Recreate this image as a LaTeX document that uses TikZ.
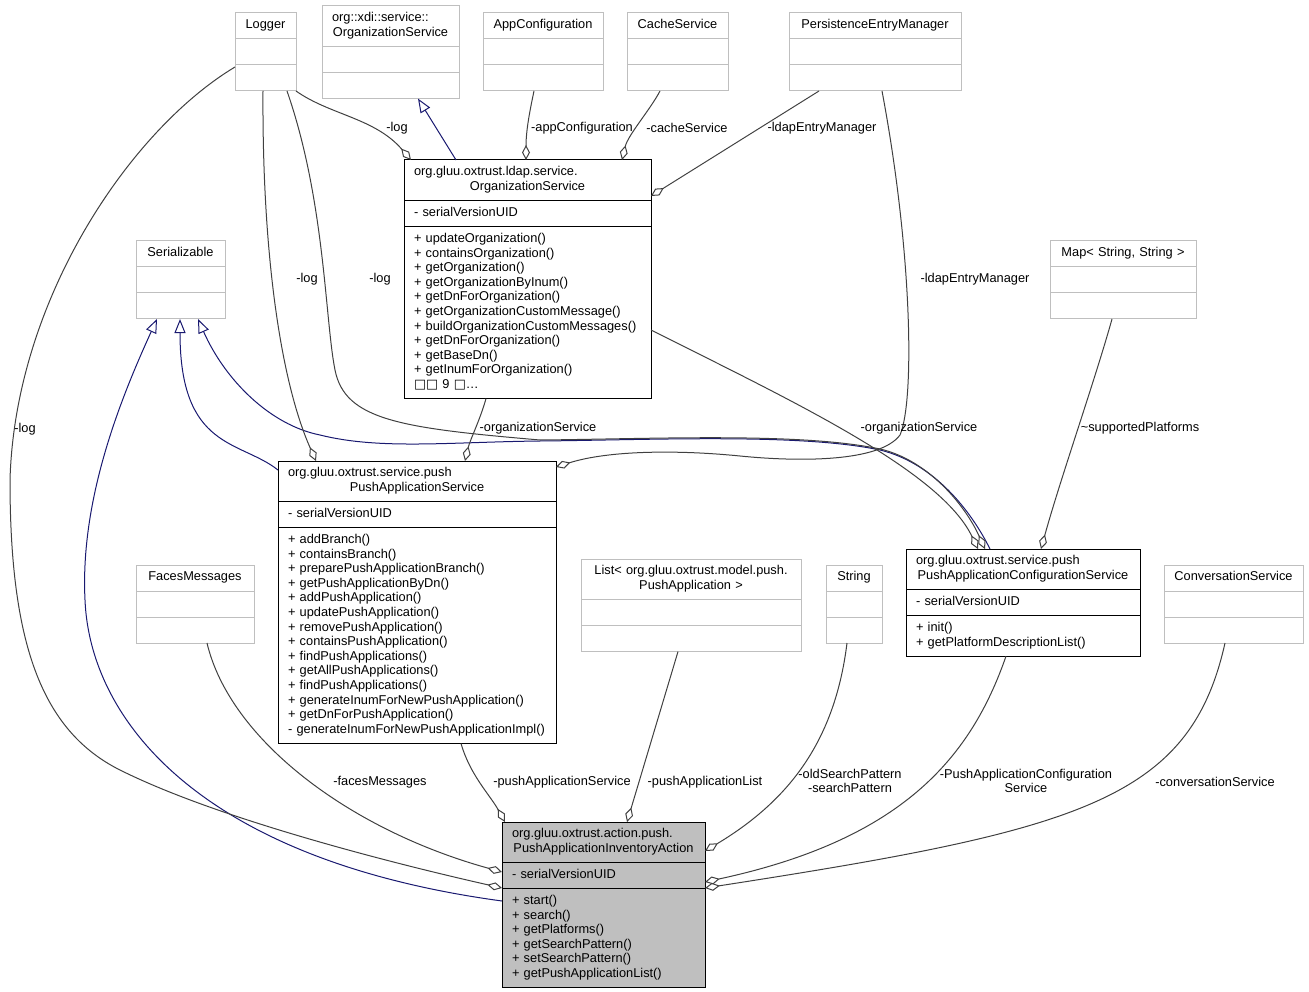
\documentclass[tikz,border=0pt]{standalone}
\usepackage{fontspec}
\setmainfont{Liberation Sans}
\newfontfamily\dvsans{DejaVu Sans}
\usetikzlibrary{shapes.multipart,arrows.meta,calc}
\definecolor{edgegray}{HTML}{404040}
\definecolor{inhblue}{HTML}{191970}
\definecolor{boxgray}{HTML}{BFBFBF}
\newcommand\clstitle[1]{\strut\makebox[\hsize]{#1}}
\newcommand\clstitletwo[2]{\strut\makebox[\hsize][l]{#1}\\\makebox[\hsize]{#2}\strut}

\begin{document}
\begin{tikzpicture}[x=1pt,y=-1pt]
		\tikzset{cls/.style = {rectangle split, rectangle split parts=3, draw, line width=1pt, anchor=north west, inner xsep=10pt, inner ysep=5.2pt, outer sep=0pt, text width=#1, align=left, font=\fontsize{12.8}{14.6}\selectfont}}
		\tikzset{ext/.style = {cls=#1, draw=boxgray}}
		\tikzset{agg/.style = {draw=edgegray, line width=1pt, -{Diamond[open,length=15pt,width=8pt]}}}
		\tikzset{inh/.style = {draw=inhblue, line width=1pt, -{Triangle[open,length=14pt,width=11pt]}}}
		\tikzset{lbl/.style = {font=\fontsize{12.8}{14.6}\selectfont, align=center, inner sep=0pt}}

		\useasboundingbox (0,0) rectangle (1309,992);

		% classes
		\node[ext=41pt] (logger) at (235,13) {\clstitle{Logger}\nodepart{second}\strut\nodepart{third}\strut};
		\node[ext=117pt] (xdisvc) at (322,6) {\clstitletwo{org::xdi::service::}{OrganizationService}\nodepart{second}\strut\nodepart{third}\strut};
		\node[ext=100pt] (appcfg) at (483,13) {\clstitle{AppConfiguration}\nodepart{second}\strut\nodepart{third}\strut};
		\node[ext=81pt] (cachesvc) at (627,13) {\clstitle{CacheService}\nodepart{second}\strut\nodepart{third}\strut};
		\node[ext=152pt] (pem) at (789,13) {\clstitle{PersistenceEntryManager}\nodepart{second}\strut\nodepart{third}\strut};
		\node[cls=227pt] (orgsvc) at (404,160) {\clstitletwo{org.gluu.oxtrust.ldap.service.}{OrganizationService}
			\nodepart{second}\strut-~serialVersionUID
			\nodepart{third}\strut+~updateOrganization()\\+~containsOrganization()\\+~getOrganization()\\+~getOrganizationByInum()\\+~getDnForOrganization()\\+~getOrganizationCustomMessage()\\+~buildOrganizationCustomMessages()\\+~getDnForOrganization()\\+~getBaseDn()\\+~getInumForOrganization()\\{\dvsans □□}~9~{\dvsans □}…\strut};
		\node[ext=69pt] (serial) at (136,241) {\clstitle{Serializable}\nodepart{second}\strut\nodepart{third}\strut};
		\node[ext=126pt] (mapss) at (1050,241) {\clstitle{Map< String, String >}\nodepart{second}\strut\nodepart{third}\strut};
		\node[cls=258pt] (pushsvc) at (278,461) {\clstitletwo{org.gluu.oxtrust.service.push}{PushApplicationService}
			\nodepart{second}\strut-~serialVersionUID
			\nodepart{third}\strut+~addBranch()\\+~containsBranch()\\+~preparePushApplicationBranch()\\+~getPushApplicationByDn()\\+~addPushApplication()\\+~updatePushApplication()\\+~removePushApplication()\\+~containsPushApplication()\\+~findPushApplications()\\+~getAllPushApplications()\\+~findPushApplications()\\+~generateInumForNewPushApplication()\\+~getDnForPushApplication()\\-~generateInumForNewPushApplicationImpl()\strut};
		\node[ext=98pt] (faces) at (136,565) {\clstitle{FacesMessages}\nodepart{second}\strut\nodepart{third}\strut};
		\node[ext=200pt] (listpa) at (581,559) {\strut\makebox[\hsize]{List< org.gluu.oxtrust.model.push.}\\\makebox[\hsize]{PushApplication >}\strut\nodepart{second}\strut\nodepart{third}\strut};
		\node[ext=36pt] (string) at (826,565) {\clstitle{String}\nodepart{second}\strut\nodepart{third}\strut};
		\node[cls=214pt] (pushcfg) at (906,549) {\clstitletwo{org.gluu.oxtrust.service.push}{PushApplicationConfigurationService}
			\nodepart{second}\strut-~serialVersionUID
			\nodepart{third}\strut+~init()\\+~getPlatformDescriptionList()\strut};
		\node[ext=119pt] (convsvc) at (1164,565) {\clstitle{ConversationService}\nodepart{second}\strut\nodepart{third}\strut};
		\node[cls=183pt, fill=boxgray] (action) at (502,822) {\clstitletwo{org.gluu.oxtrust.action.push.}{PushApplicationInventoryAction}
			\nodepart{second}\strut-~serialVersionUID
			\nodepart{third}\strut+~start()\\+~search()\\+~getPlatforms()\\+~getSearchPattern()\\+~setSearchPattern()\\+~getPushApplicationList()\strut};

		% inheritance
		\draw[inh] ($(orgsvc.north west)+(52,0)$) -- ($(xdisvc.south west)+(96,0)$);
		\draw[inh] ($(pushsvc.north west)+(0,9)$) .. controls (240,440) and (180,450) .. ($(serial.south west)+(44,0)$);
		\draw[inh] ($(pushcfg.north west)+(84,0)$) .. controls (968,505) and (930,462) .. (880,450) .. controls (800,433) and (650,440) .. (540,441) .. controls (450,442) and (380,450) .. (320,435) .. controls (270,425) and (225,380) .. ($(serial.south west)+(62,0)$);
		\draw[inh] ($(action.north west)+(0,79)$) .. controls (200,860) and (90,720) .. (85,600) .. controls (80,500) and (120,400) .. ($(serial.south west)+(21,0)$);

		% usage
		\draw[agg] (logger.south east) .. controls (330,115) and (375,118) .. ($(orgsvc.north west)+(7,0)$);
		\draw[agg] ($(appcfg.south west)+(51,0)$) .. controls (530,110) and (526,130) .. ($(orgsvc.north west)+(122,0)$);
		\draw[agg] ($(cachesvc.south west)+(33,0)$) .. controls (650,110) and (628,135) .. ($(orgsvc.north west)+(218,0)$);
		\draw[agg] ($(pem.south west)+(30,0)$) -- ($(orgsvc.north east)+(0,36)$);
		\draw[agg] ($(logger.south west)+(28,0)$) .. controls (262,250) and (280,380) .. ($(pushsvc.north west)+(38,0)$);
		\draw[agg] ($(logger.south west)+(52,0)$) .. controls (325,200) and (325,320) .. (335,370) .. controls (345,420) and (400,428) .. (540,440) .. controls (650,439) and (800,432) .. (880,449) .. controls (928,460) and (965,505) .. ($(pushcfg.north west)+(79,0)$);
		\draw[agg] ($(logger.north west)+(0,54)$) .. controls (130,130) and (15,300) .. (10,480) .. controls (10,640) and (40,730) .. (120,770) .. controls (220,820) and (400,865) .. ($(action.north west)+(0,66)$);
		\draw[agg] ($(pem.south west)+(93,0)$) .. controls (912,250) and (915,400) .. (900,435) .. controls (880,462) and (800,462) .. (740,456) .. controls (680,450) and (610,450) .. ($(pushsvc.north east)+(0,6)$);
		\draw[agg] ($(orgsvc.south west)+(82,0)$) .. controls (480,420) and (470,440) .. ($(pushsvc.north west)+(187,0)$);
		\draw[agg] ($(orgsvc.north east)+(0,170)$) .. controls (790,400) and (940,470) .. ($(pushcfg.north west)+(72,0)$);
		\draw[agg] ($(mapss.south west)+(62,0)$) .. controls (1095,380) and (1060,480) .. ($(pushcfg.north west)+(135,0)$);
		\draw[agg] ($(faces.south west)+(71,0)$) .. controls (230,740) and (350,830) .. ($(action.north west)+(0,50)$);
		\draw[agg] ($(pushsvc.south west)+(183,0)$) .. controls (470,775) and (490,795) .. ($(action.north west)+(3,0)$);
		\draw[agg] ($(listpa.south west)+(97,0)$) -- ($(action.north west)+(125,0)$);
		\draw[agg] ($(string.south west)+(21,0)$) .. controls (835,740) and (790,800) .. ($(action.north east)+(0,29)$);
		\draw[agg] ($(pushcfg.south west)+(100,0)$) .. controls (970,760) and (900,840) .. ($(action.north east)+(0,60)$);
		\draw[agg] ($(convsvc.south west)+(61,0)$) .. controls (1190,800) and (1080,830) .. ($(action.north east)+(0,66)$);

		% labels
		\node[lbl] (llogorg) at (397,128) {-log};
		\node[lbl] (lappcfg) at (582,128) {-appConfiguration};
		\node[lbl] (lcache) at (687,128) {-cacheService};
		\node[lbl] (lpemorg) at (822,128) {-ldapEntryManager};
		\node[lbl] (llogpsvc) at (307,279) {-log};
		\node[lbl] (llogpcfg) at (380,279) {-log};
		\node[lbl] (llogact) at (25,429) {-log};
		\node[lbl] (lpempsvc) at (975,279) {-ldapEntryManager};
		\node[lbl] (lorgpsvc) at (538,428) {-organizationService};
		\node[lbl] (lorgpcfg) at (919,428) {-organizationService};
		\node[lbl] (lmap) at (1140,428) {\textasciitilde supportedPlatforms};
		\node[lbl] (lfaces) at (380,782) {-facesMessages};
		\node[lbl] (lpsvc) at (562,782) {-pushApplicationService};
		\node[lbl] (llist) at (705,782) {-pushApplicationList};
		\node[lbl] (lstring) at (850,781) {-oldSearchPattern\\-searchPattern};
		\node[lbl] (lpcfg) at (1026,781) {-PushApplicationConfiguration\\Service};
		\node[lbl] (lconv) at (1215,782) {-conversationService};

\end{tikzpicture}
\end{document}
